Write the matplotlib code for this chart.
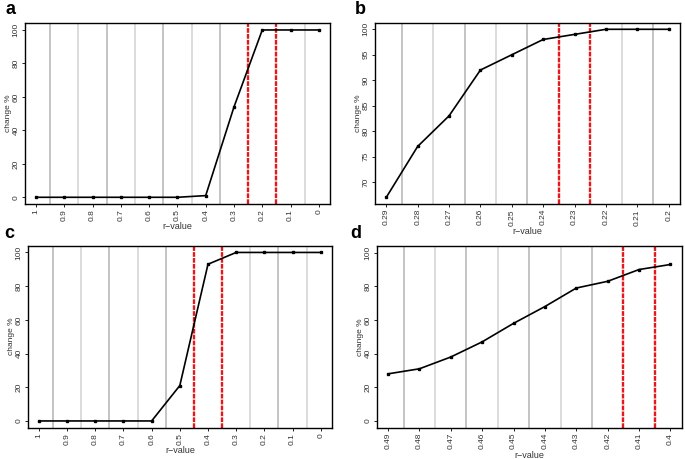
import numpy as np
import matplotlib.pyplot as plt

plt.rcParams['font.family'] = ['Liberation Sans', 'DejaVu Sans']

# ---- data ----
xa = [1, 0.9, 0.8, 0.7, 0.6, 0.5, 0.4, 0.3, 0.2, 0.1, 0]
ya = [0, 0, 0, 0, 0, 0, 1, 54, 100, 100, 100]
reda = [0.25, 0.15]

xb = [0.29, 0.28, 0.27, 0.26, 0.25, 0.24, 0.23, 0.22, 0.21, 0.2]
yb = [67, 77, 83, 92, 95, 98, 99, 100, 100, 100]
redb = [0.235, 0.225]

xc = [1, 0.9, 0.8, 0.7, 0.6, 0.5, 0.4, 0.3, 0.2, 0.1, 0]
yc = [0, 0, 0, 0, 0, 21, 93, 100, 100, 100, 100]
redc = [0.45, 0.35]

xd = [0.49, 0.48, 0.47, 0.46, 0.45, 0.44, 0.43, 0.42, 0.41, 0.4]
yd = [28, 31, 38, 47, 58, 68, 79, 83, 90, 93]
redd = [0.415, 0.405]

xlabels_a = ["1", "0.9", "0.8", "0.7", "0.6", "0.5", "0.4", "0.3", "0.2", "0.1", "0"]
xlabels_b = ["0.29", "0.28", "0.27", "0.26", "0.25", "0.24", "0.23", "0.22", "0.21", "0.2"]
xlabels_d = ["0.49", "0.48", "0.47", "0.46", "0.45", "0.44", "0.43", "0.42", "0.41", "0.4"]

fig = plt.figure(figsize=(6.85, 4.59), dpi=100)

def panel(rect, x, y, red, xlabels, yticks, ylim, letter, letterpos):
    ax = fig.add_axes(rect)
    x = np.array(x)
    rng = abs(x[0] - x[-1])
    mids = (x[:-1] + x[1:]) / 2
    for i, m in enumerate(mids):
        if np.any(np.isclose(m, red)):
            continue
        ax.axvline(m, color="#b4b4b4" if i % 2 == 0 else "#d2d2d2", lw=1.1, zorder=1)
    for r in red:
        ax.axvline(r, color="#e31a1c", lw=1.7, ls=(0, (2, 0.5)), zorder=2)
    ax.plot(x, y, color="black", lw=1.2, marker="s", ms=2.0, zorder=3)
    ax.set_xlim(x[0] + rng * 0.04, x[-1] - rng * 0.04)
    ax.set_ylim(*ylim)
    ax.set_xticks(x)
    ax.set_xticklabels(xlabels, rotation=90, fontsize=6, color="#333333")
    ax.set_yticks(yticks)
    ax.set_yticklabels([str(t) for t in yticks], rotation=90, va="center", fontsize=6, color="#333333")
    ax.tick_params(length=2.5, width=0.6, pad=1.2)
    ax.set_xlabel("r\u2212value", fontsize=6.5, color="#333333", labelpad=1)
    ax.set_ylabel("change %", fontsize=6, color="#333333", labelpad=0.5)
    for s in ax.spines.values():
        s.set_linewidth(1.0)
    fig.text(letterpos[0] / 685, 1 - letterpos[1] / 459, letter, fontsize=13,
             fontweight="bold", ha="center", va="center")
    return ax

panel([0.036, 0.5556, 0.446, 0.3937], xa, ya, reda, xlabels_a, [0, 20, 40, 60, 80, 100], (-4, 104), "a", (10, 10))
panel([0.5474, 0.5556, 0.4453, 0.395], xb, yb, redb, xlabels_b, [70, 75, 80, 85, 90, 95, 100], (65.7, 101.3), "b", (360, 9))
panel([0.0404, 0.0682, 0.4442, 0.3965], xc, yc, redc, xlabels_a, [0, 20, 40, 60, 80, 100], (-4, 104), "c", (9, 234))
panel([0.5499, 0.0682, 0.4453, 0.3959], xd, yd, redd, xlabels_d, [0, 20, 40, 60, 80, 100], (-4, 104), "d", (356, 233))

plt.savefig("out.png", dpi=100)
